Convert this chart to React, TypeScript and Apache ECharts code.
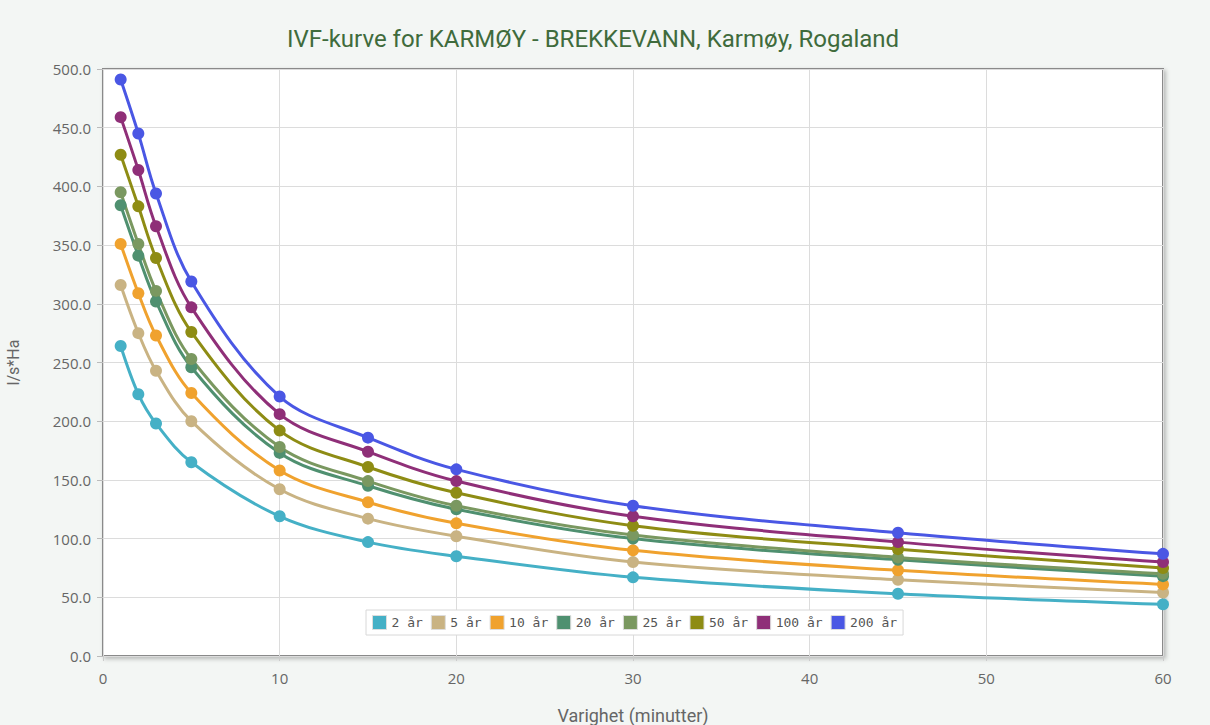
import React, { useEffect, useRef } from "react";
import * as echarts from "echarts";

const durations = [1, 2, 3, 5, 10, 15, 20, 30, 45, 60];
const seriesNames = ["2 år", "5 år", "10 år", "20 år", "25 år", "50 år", "100 år", "200 år"];
const colors = ["#45b0c6", "#c9b383", "#f0a22e", "#4f9070", "#7a9860", "#8e8c14", "#8f2f78", "#4a57e4"];
const v2 = [264, 223, 198, 165, 119, 97, 85, 67, 53, 44];
const v5 = [316, 275, 243, 200, 142, 117, 102, 80, 65, 54];
const v10 = [351, 309, 273, 224, 158, 131, 113, 90, 73, 61];
const v20 = [384, 341, 302, 246, 173, 145, 125, 100, 82, 68];
const v25 = [395, 351, 311, 253, 178, 149, 128, 103, 84, 70];
const v50 = [427, 383, 339, 276, 192, 161, 139, 111, 91, 75];
const v100 = [459, 414, 366, 297, 206, 174, 149, 119, 97, 80];
const v200 = [491, 445, 394, 319, 221, 186, 159, 128, 105, 87];
const allValues = [v2, v5, v10, v20, v25, v50, v100, v200];

export default function App() {
  const ref = useRef<HTMLDivElement>(null);
  useEffect(() => {
    document.body.style.margin = "0";
    const chart = echarts.init(ref.current!, null, { renderer: "svg" });
    chart.setOption({
      animation: false,
      backgroundColor: "#f3f6f4",
      title: {
        text: "IVF-kurve for KARMØY - BREKKEVANN, Karmøy, Rogaland",
        left: 282,
        top: 22,
        textStyle: { color: "#3f6b3c", fontSize: 24, fontWeight: "normal", fontFamily: "Roboto" },
      },
      grid: {
        left: 103,
        right: 47,
        top: 69,
        bottom: 69,
        outerBoundsMode: "none",
        containLabel: false,
        show: true,
        backgroundColor: "#ffffff",
        borderColor: "#8a8a8a",
        borderWidth: 2,
        shadowColor: "rgba(0,0,0,0.25)",
        shadowBlur: 4,
        shadowOffsetX: 2,
        shadowOffsetY: 2,
      },
      legend: {
        data: seriesNames,
        left: 366,
        top: 610,
        itemWidth: 14,
        itemHeight: 14,
        itemGap: 8,
        icon: "rect",
        backgroundColor: "#ffffff",
        borderColor: "#d8d8d8",
        borderWidth: 1,
        padding: [5, 6],
        textStyle: { fontFamily: "DejaVu Sans Mono", fontSize: 13, color: "#555" },
        itemStyle: { borderColor: "#dddddd", borderWidth: 1 },
      },
      xAxis: {
        type: "value",
        min: 0,
        max: 60,
        interval: 10,
        name: "Varighet (minutter)",
        nameLocation: "middle",
        nameGap: 50,
        nameTextStyle: { color: "#666", fontSize: 18, fontFamily: "Roboto" },
        axisLine: { show: false },
        axisTick: { show: true, length: 5, lineStyle: { color: "#ccc" } },
        axisLabel: { color: "#666", fontSize: 15, margin: 14, fontFamily: "Open Sans" },
        splitLine: { show: true, lineStyle: { color: "#dcdcdc", width: 1 } },
      },
      yAxis: {
        type: "value",
        min: 0,
        max: 500,
        interval: 50,
        name: "l/s*Ha",
        nameLocation: "middle",
        nameGap: 82,
        nameTextStyle: { color: "#666", fontSize: 16, fontFamily: "Roboto" },
        axisLine: { show: false },
        axisTick: { show: true, length: 6, lineStyle: { color: "#bbb" } },
        axisLabel: {
          color: "#666",
          fontSize: 15,
          margin: 12,
          fontFamily: "Open Sans",
          formatter: (v: number) => v.toFixed(1),
        },
        splitLine: { show: true, lineStyle: { color: "#dcdcdc", width: 1 } },
      },
      series: seriesNames.map((name, i) => ({
        name,
        type: "line",
        smooth: 0.35,
        symbol: "circle",
        symbolSize: 12,
        color: colors[i],
        lineStyle: { width: 3, color: colors[i] },
        itemStyle: { color: colors[i] },
        data: durations.map((d, j) => [d, allValues[i][j]]),
      })),
    });
    return () => chart.dispose();
  }, []);
  return <div ref={ref} style={{ width: 1210, height: 725 }} />;
}
